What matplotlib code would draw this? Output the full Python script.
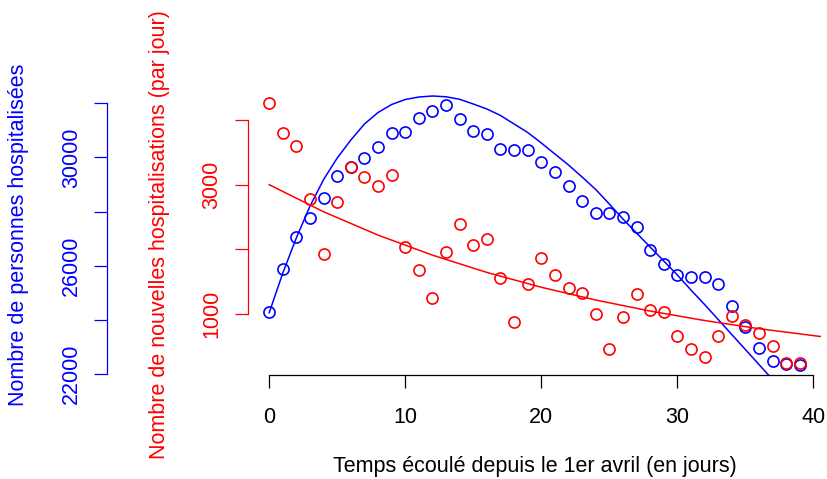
import numpy as np
import matplotlib
matplotlib.use("Agg")
import matplotlib.pyplot as plt

plt.rcParams['font.family'] = ['Liberation Sans', 'DejaVu Sans']

# jours depuis le 1er avril
jours = list(range(40))

# nombre de personnes hospitalisées (bleu)
hospitalises = [24288, 25875, 27055, 27756, 28494, 29306, 29638, 29982, 30376, 30893,
                30952, 31446, 31727, 31926, 31410, 30967, 30867, 30314, 30288, 30288,
                29823, 29465, 28948, 28384, 27963, 27941, 27793, 27446, 26587, 26059,
                25664, 25601, 25601, 25332, 24531, 23756, 22982, 22491, 22391, 22343]

# nouvelles hospitalisations par jour (rouge)
nouvelles = [4256, 3798, 3602, 2784, 1926, 2738, 3269, 3114, 2980, 3154,
             2043, 1679, 1247, 1957, 2394, 2069, 2157, 1560, 877, 1468,
             1869, 1611, 1401, 1333, 1000, 469, 958, 1309, 1066, 1040,
             660, 460, 341, 670, 978, 830, 711, 506, 253, 244]

# courbes ajustées
jours_fit_h = list(range(38))
fit_hospitalises = [24273, 25738, 27041, 28210, 29188, 29982, 30646, 31236, 31661, 31956,
                    32140, 32232, 32269, 32240, 32148, 31974, 31790, 31550, 31236, 30923,
                    30535, 30129, 29723, 29280, 28819, 28284, 27731, 27214, 26697, 26181,
                    25664, 25111, 24576, 24022, 23469, 22915, 22362, 21808]
jours_fit_n = [0, 4, 8, 12, 16, 20, 24, 28, 32, 36, 40.56]
fit_nouvelles = [3000, 2582, 2222, 1913, 1646, 1417, 1220, 1050, 904, 778, 656]

W, H = 827, 479
fig = plt.figure(figsize=(W / 100, H / 100), dpi=100)
ax = fig.add_axes([248 / W, 104 / H, 573 / W, 281 / H])
ax2 = ax.twinx()

fs = 15.5
tick_len = 9.7

# bleu
ax.plot(jours, hospitalises, 'o', mfc='none', mec='blue', ms=8, mew=1.2)
ax.plot(jours_fit_h, fit_hospitalises, color='blue', lw=1.1)
ax.set_xlim(-1.56, 40.56)
ax.set_ylim(21974, 32343)

# rouge
ax2.plot(jours, nouvelles, 'o', mfc='none', mec='red', ms=8, mew=1.2)
ax2.plot(jours_fit_n, fit_nouvelles, color='red', lw=1.1)
ax2.set_ylim(63, 4400)

for a in (ax, ax2):
    for s in a.spines.values():
        s.set_visible(False)
    a.patch.set_visible(False)

# axe x
ax.spines['bottom'].set_visible(True)
ax.spines['bottom'].set_bounds(0, 40)
ax.spines['bottom'].set_linewidth(0.9)
ax.set_xticks([0, 10, 20, 30, 40])
ax.tick_params(axis='x', length=tick_len, width=0.9, pad=13, labelsize=fs)
ax.set_xlabel('Temps écoulé depuis le 1er avril (en jours)', fontsize=fs)
ax.xaxis.set_label_coords(0.5, -0.325)
ax.xaxis.label.set_va('center')

# axe bleu, décalé à gauche
ax.spines['left'].set_visible(True)
ax.spines['left'].set_position(('outward', 101.5))
ax.spines['left'].set_bounds(22000, 32000)
ax.spines['left'].set_color('blue')
ax.spines['left'].set_linewidth(0.9)
yt_h = [22000, 24000, 26000, 28000, 30000, 32000]
ax.set_yticks(yt_h)
ax.set_yticklabels(['22000', '', '26000', '', '30000', ''], rotation=90, va='center', ha='center')
ax.tick_params(axis='y', length=tick_len, width=0.9, pad=16, colors='blue', labelsize=fs)
ax.set_ylabel('Nombre de personnes hospitalisées', fontsize=fs, color='blue')
ax.yaxis.set_label_coords(-0.4, 0.5)
ax.yaxis.label.set_va('center')

# axe rouge
ax2.yaxis.tick_left()
ax2.yaxis.set_label_position('left')
ax2.spines['left'].set_visible(True)
ax2.spines['left'].set_bounds(1000, 4000)
ax2.spines['left'].set_color('red')
ax2.spines['left'].set_linewidth(0.9)
ax2.set_yticks([1000, 2000, 3000, 4000])
ax2.set_yticklabels(['1000', '', '3000', ''], rotation=90, va='center', ha='center')
ax2.tick_params(axis='y', length=tick_len, width=0.9, pad=16.5, colors='red', labelsize=fs)
ax2.set_ylabel('Nombre de nouvelles hospitalisations (par jour)', fontsize=fs, color='red')
ax2.yaxis.set_label_coords(-0.155, 0.5)
ax2.yaxis.label.set_va('center')

fig.savefig('out.png', dpi=100)
